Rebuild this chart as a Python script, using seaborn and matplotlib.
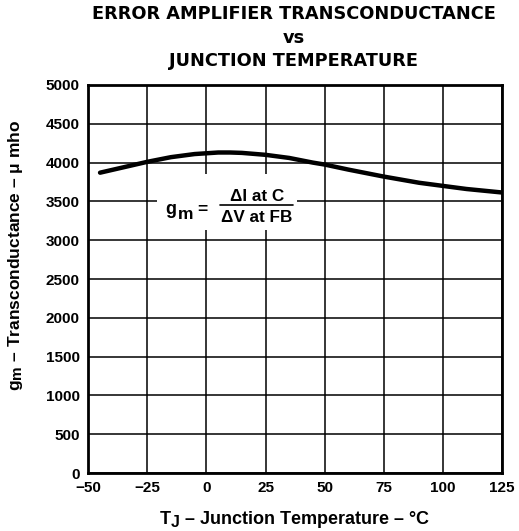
import matplotlib
matplotlib.use("Agg")
import matplotlib.pyplot as plt
import matplotlib._mathtext as _mt
import seaborn as sns
import pandas as pd
from matplotlib.patches import Rectangle

_mt.SHRINK_FACTOR = 0.88

temperature_c = [-45, -35, -25, -15, -5, 5, 10, 15, 25, 35, 45, 50, 60, 75, 90, 100, 110, 125]
gm_umho = [3870, 3940, 4010, 4070, 4110, 4130, 4130, 4125, 4100, 4060, 4000, 3975, 3910, 3820, 3740, 3700, 3660, 3615]
x_ticks = [-50, -25, 0, 25, 50, 75, 100, 125]
y_ticks = [0, 500, 1000, 1500, 2000, 2500, 3000, 3500, 4000, 4500, 5000]

sns.set_theme(style="white")
plt.rcParams['font.family'] = ['Liberation Sans', 'DejaVu Sans']
plt.rcParams['mathtext.fontset'] = 'custom'
plt.rcParams['mathtext.rm'] = 'Liberation Sans:bold'
plt.rcParams['mathtext.bf'] = 'Liberation Sans:bold'
plt.rcParams['mathtext.it'] = 'Liberation Sans:bold'
plt.rcParams['text.color'] = 'black'
plt.rcParams['axes.labelcolor'] = 'black'
plt.rcParams['xtick.color'] = 'black'
plt.rcParams['ytick.color'] = 'black'

df = pd.DataFrame({"T": temperature_c, "gm": gm_umho})

fig = plt.figure(figsize=(5.19, 5.31), dpi=100)
ax = fig.add_axes([0.170, 0.109, 0.797, 0.731])
sns.lineplot(data=df, x="T", y="gm", ax=ax, color="black", linewidth=3.2, zorder=3)

ax.set_xlim(-50, 125)
ax.set_ylim(0, 5000)
ax.set_xticks(x_ticks)
ax.set_yticks(y_ticks)
ax.set_xticklabels([("\u2212" + str(-v)) if v < 0 else str(v) for v in x_ticks])
ax.grid(True, color="black", linewidth=1.1)
ax.set_axisbelow(True)
for s in ax.spines.values():
    s.set_color("black")
    s.set_linewidth(2)
ax.tick_params(axis="both", length=0, pad=6, labelsize=11, colors="black")
for lab in ax.get_xticklabels() + ax.get_yticklabels():
    lab.set_fontweight("bold")

ax.set_xlabel(r"$\mathbf{T}_{\mathbf{J}}$" + " \u2013 Junction Temperature \u2013 \u00b0C", fontsize=13, fontweight="bold", color="black")
ax.set_ylabel(r"$\mathbf{g}_{\mathbf{m}}$" + " \u2013 Transconductance \u2013 \u03bc mho", fontsize=12.5, fontweight="bold", color="black")
ax.xaxis.set_label_coords(0.5, -0.093)
ax.yaxis.set_label_coords(-0.152, 0.56)

tfont = dict(ha="center", va="center", fontsize=12.8, fontweight="bold", family=["DejaVu Sans"], color="black")
fig.text(0.566, 0.974, "ERROR AMPLIFIER TRANSCONDUCTANCE", **tfont)
fig.text(0.566, 0.929, "vs", **tfont)
fig.text(0.566, 0.886, "JUNCTION TEMPERATURE", **tfont)

# formula box
ax.add_patch(Rectangle((-20.8, 3131), 59.1, 722, transform=ax.transData, facecolor="white", edgecolor="none", zorder=2))
fk = dict(ha="center", va="center", fontweight="bold", zorder=4, color="black")
ax.text(-14.9, 3400, "g", fontsize=13, **fk)
ax.text(-9.0, 3330, "m", fontsize=12.5, **fk)
ax.text(-1.6, 3400, "=", fontsize=12.5, **fk)
ax.text(21.6, 3560, "\u0394I at C", fontsize=12.3, **fk)
ax.text(21.4, 3292, "\u0394V at FB", fontsize=12.3, **fk)
ax.plot([5.8, 36.7], [3454, 3454], color="black", linewidth=1.2, zorder=4)

fig.savefig("out.png", dpi=100)
